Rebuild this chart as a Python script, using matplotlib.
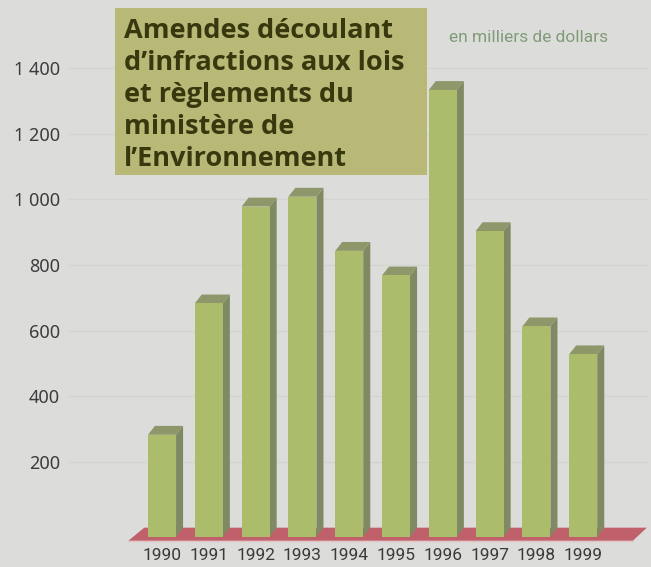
import matplotlib.pyplot as plt
from matplotlib.patches import Polygon, Rectangle

# data (milliers de dollars)
years = ['1990', '1991', '1992', '1993', '1994', '1995', '1996', '1997', '1998', '1999']
amendes = [310, 710, 1005, 1035, 870, 795, 1360, 930, 640, 555]
ytick_vals = [200, 400, 600, 800, 1000, 1200, 1400]
ytick_labels = ['200', '400', '600', '800', '1 000', '1 200', '1 400']
title_lines = ['Amendes découlant', 'd\u2019infractions aux lois', 'et règlements du',
               'ministère de', 'l\u2019Environnement']
unit_text = 'en milliers de dollars'

bg = '#dcdddb'
front_col = '#abbd6b'
side_col = '#7f8963'
top_col = '#8d9769'
floor_col = '#c0606a'

fig = plt.figure(figsize=(6.51, 5.67), dpi=100, facecolor=bg)
ax = fig.add_axes([0.1051, 0.0346, 0.8914, 0.8919])
ax.set_facecolor(bg)
ax.set_xlim(-2, 10.4)
ax.set_ylim(-60, 1480)
for s in ax.spines.values():
    s.set_visible(False)

# depth of the fake 3d
w = 0.6
dx = 0.15
dy = 27

for v in ytick_vals:
    ax.axhline(v, color='#d2d4d0', lw=1, zorder=1)

# floor
n = len(years)
floor = Polygon([(-0.38, 0), (n - 1 + 0.38 + 0.98, 0), (n - 1 + 0.38 + 0.68, -40), (-0.72, -40)],
                closed=True, facecolor=floor_col, edgecolor='none', zorder=2)
ax.add_patch(floor)
ax.plot([-0.72, n - 1 + 1.06], [-41, -41], color='#e2c4c6', lw=1, zorder=2)

for i, v in enumerate(amendes):
    x0 = i - w / 2
    x1 = i + w / 2
    side = Polygon([(x1, v - dy), (x1 + dx, v), (x1 + dx, 0), (x1, -dy)],
                   closed=True, facecolor=side_col, edgecolor='none', zorder=3)
    top = Polygon([(x0, v - dy), (x1, v - dy), (x1 + dx, v), (x0 + dx, v)],
                  closed=True, facecolor=top_col, edgecolor='none', zorder=3)
    ax.add_patch(side)
    ax.add_patch(top)
ax.bar(range(n), amendes, width=w, bottom=-dy, color=front_col,
       edgecolor='none', zorder=4)

ax.set_yticks(ytick_vals)
ax.set_yticklabels(ytick_labels, fontsize=13, color='#3c3c3c', family='Noto Sans')
ax.tick_params(axis='y', length=0, pad=6)
ax.set_xticks(range(n))
ax.set_xticklabels(years, fontsize=12.5, color='#3a3a3a', family='Roboto')
ax.tick_params(axis='x', length=0, pad=0.5)

# title box
fig.patches.append(Rectangle((115 / 651, 1 - 175 / 567), 312 / 651, 167 / 567,
                             transform=fig.transFigure, facecolor='#b8b877',
                             edgecolor='none', zorder=5))
fig.text(124 / 651, 1 - 18 / 567, '\n'.join(title_lines), ha='left', va='top',
         fontsize=19.5, fontweight='bold', color='#38380f', family='Open Sans',
         linespacing=1.3, zorder=6)

fig.text(449 / 651, 1 - 37 / 567, unit_text, ha='left', va='center', fontsize=12.5,
         color='#819b78', family='Roboto', zorder=6)

fig.savefig('out.png', dpi=100, facecolor=bg)
